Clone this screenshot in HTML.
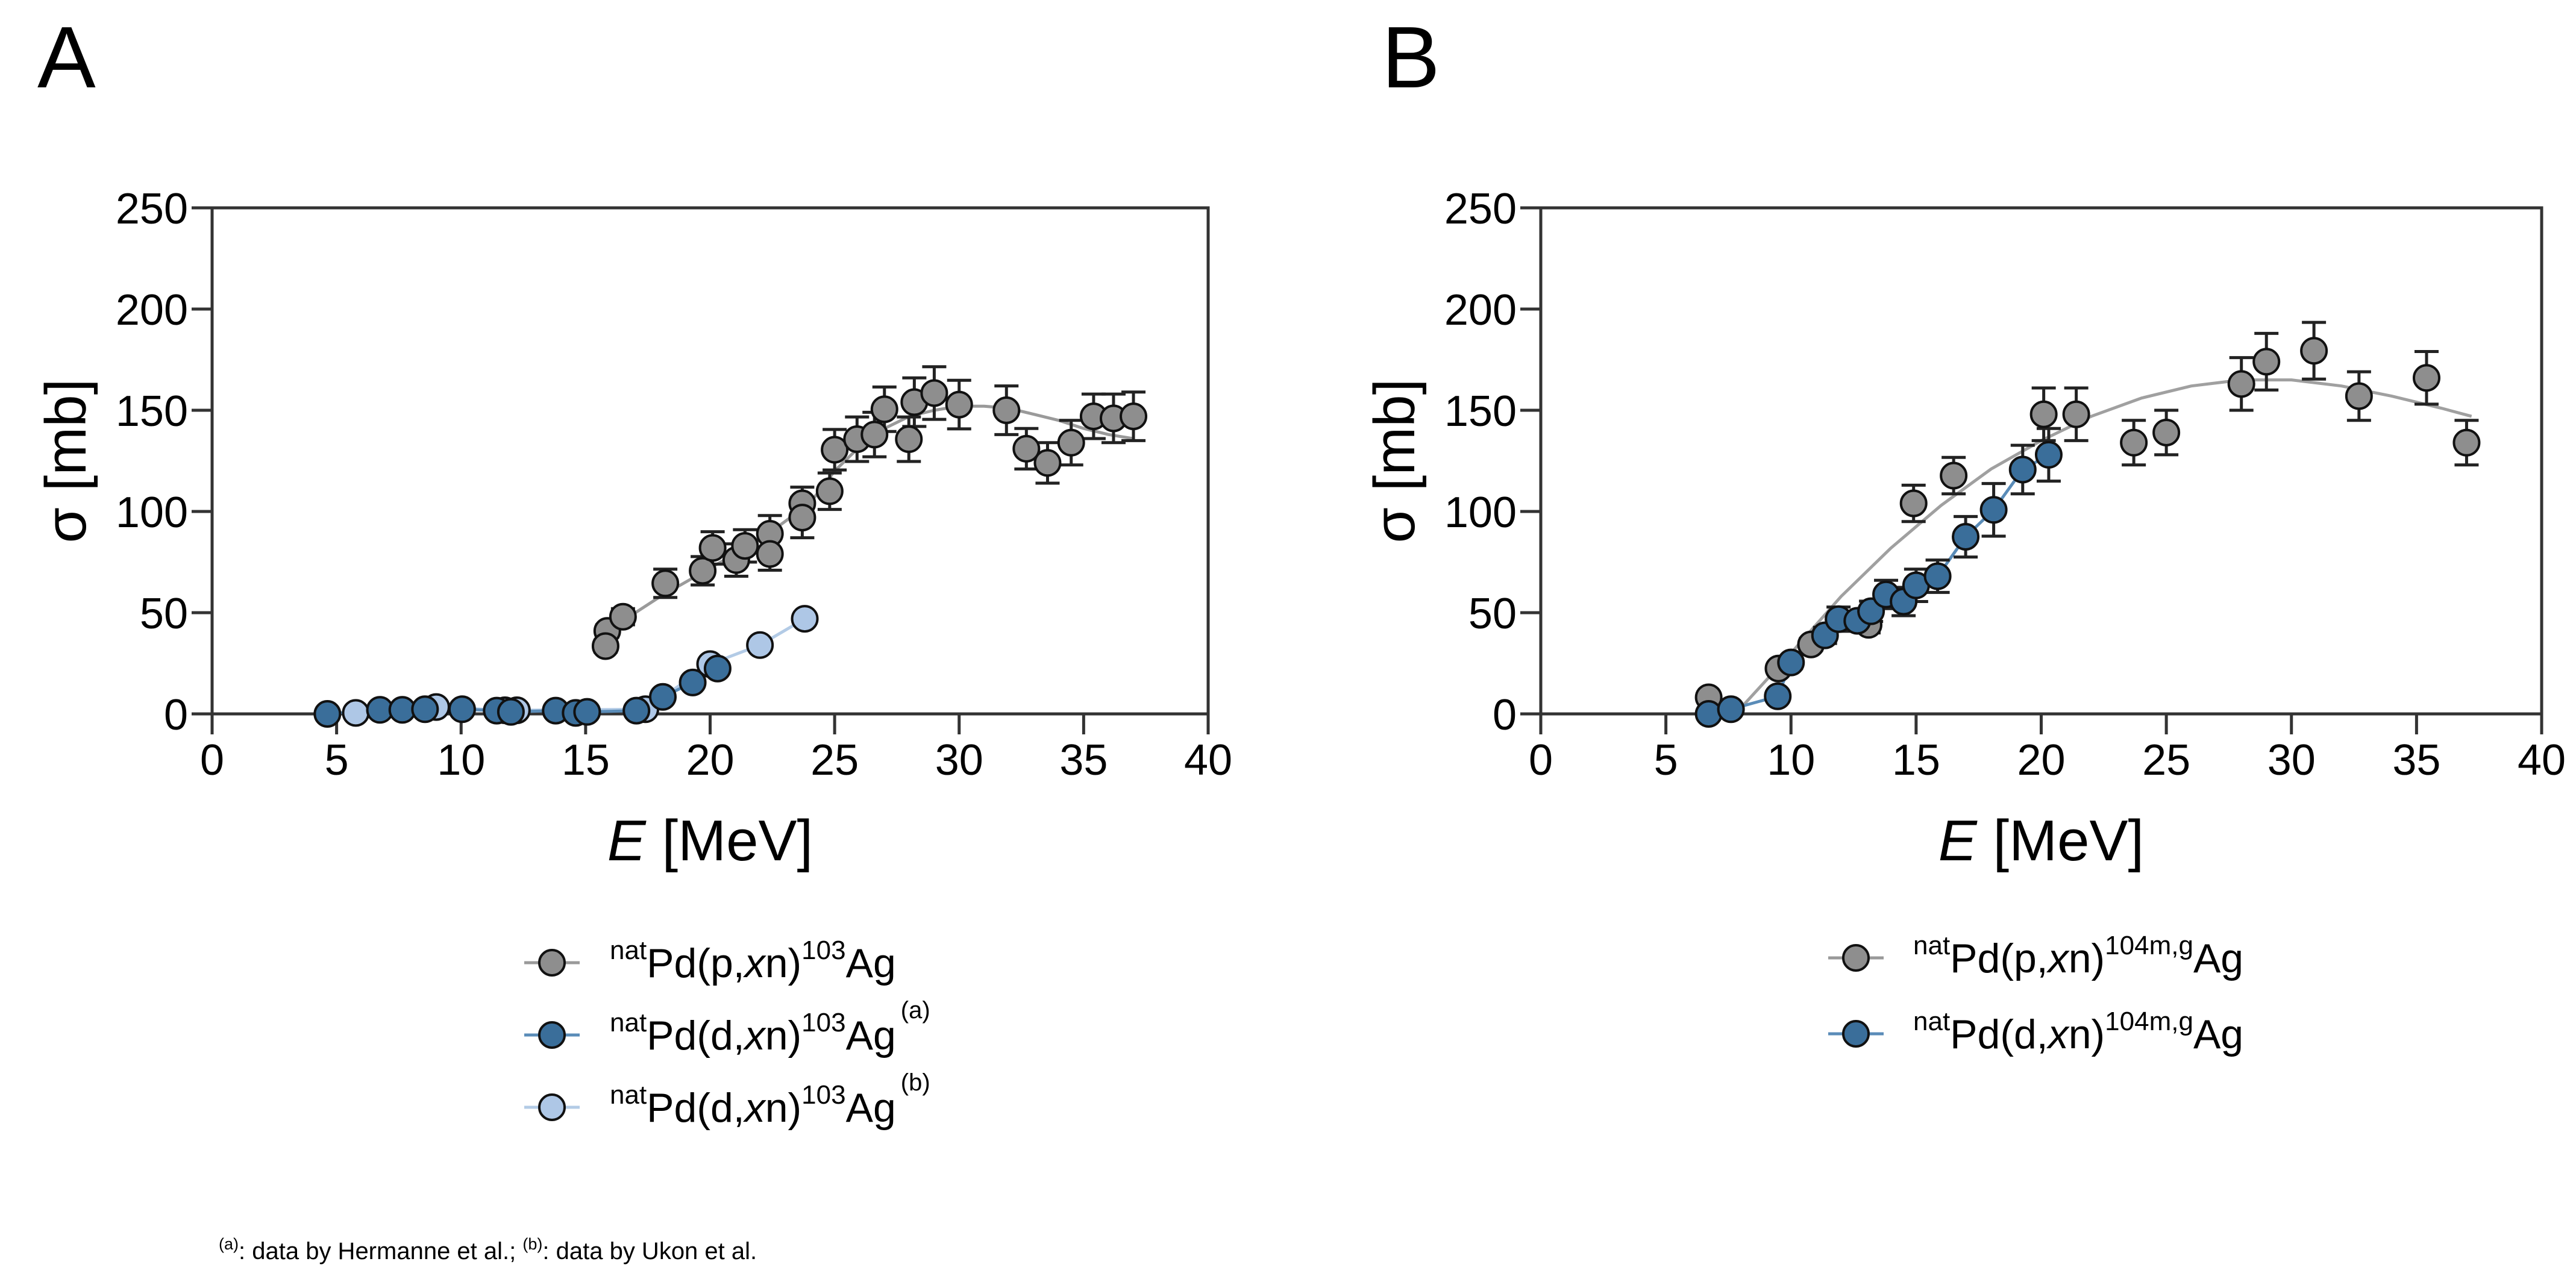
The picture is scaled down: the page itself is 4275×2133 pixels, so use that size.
<!DOCTYPE html>
<html><head><meta charset="utf-8"><style>
html,body{margin:0;padding:0;background:#fff;}
svg{display:block;font-family:"Liberation Sans",Arial,sans-serif;}
</style></head><body>
<svg id="fig" width="4275" height="2133" viewBox="0 0 4275 2133" xmlns="http://www.w3.org/2000/svg">
<text x="62" y="145" font-size="145">A</text>
<text x="2293" y="145" font-size="145">B</text>
<g id="pa"></g>
<g id="pb"></g>
<g font-size="68">
 <g>
  <line x1="870" y1="1598" x2="962" y2="1598" stroke="#999" stroke-width="5"/>
  <circle cx="916" cy="1598" r="21" fill="#8e8e8e" stroke="#111" stroke-width="4"/>
  <text x="1012" y="1622"><tspan font-size="44" dy="-30">nat</tspan><tspan dy="30">Pd(p,</tspan><tspan font-style="italic">x</tspan><tspan>n)</tspan><tspan font-size="44" dy="-30">103</tspan><tspan dy="30">Ag</tspan></text>
 </g>
 <g>
  <line x1="870" y1="1718" x2="962" y2="1718" stroke="#5a8cb8" stroke-width="5"/>
  <circle cx="916" cy="1718" r="21" fill="#3a6e9a" stroke="#111" stroke-width="4"/>
  <text x="1012" y="1742"><tspan font-size="44" dy="-30">nat</tspan><tspan dy="30">Pd(d,</tspan><tspan font-style="italic">x</tspan><tspan>n)</tspan><tspan font-size="44" dy="-30">103</tspan><tspan dy="30">Ag</tspan><tspan font-size="40" dy="-52" dx="8">(a)</tspan></text>
 </g>
 <g>
  <line x1="870" y1="1838" x2="962" y2="1838" stroke="#b3cbe6" stroke-width="5"/>
  <circle cx="916" cy="1838" r="21" fill="#aec7e6" stroke="#111" stroke-width="4"/>
  <text x="1012" y="1862"><tspan font-size="44" dy="-30">nat</tspan><tspan dy="30">Pd(d,</tspan><tspan font-style="italic">x</tspan><tspan>n)</tspan><tspan font-size="44" dy="-30">103</tspan><tspan dy="30">Ag</tspan><tspan font-size="40" dy="-52" dx="8">(b)</tspan></text>
 </g>
</g>
<g font-size="68">
 <g>
  <line x1="3034" y1="1590" x2="3126" y2="1590" stroke="#999" stroke-width="5"/>
  <circle cx="3080" cy="1590" r="21" fill="#8e8e8e" stroke="#111" stroke-width="4"/>
  <text x="3175" y="1614"><tspan font-size="44" dy="-30">nat</tspan><tspan dy="30">Pd(p,</tspan><tspan font-style="italic">x</tspan><tspan>n)</tspan><tspan font-size="44" dy="-30">104m,g</tspan><tspan dy="30">Ag</tspan></text>
 </g>
 <g>
  <line x1="3034" y1="1716" x2="3126" y2="1716" stroke="#5a8cb8" stroke-width="5"/>
  <circle cx="3080" cy="1716" r="21" fill="#3a6e9a" stroke="#111" stroke-width="4"/>
  <text x="3175" y="1740"><tspan font-size="44" dy="-30">nat</tspan><tspan dy="30">Pd(d,</tspan><tspan font-style="italic">x</tspan><tspan>n)</tspan><tspan font-size="44" dy="-30">104m,g</tspan><tspan dy="30">Ag</tspan></text>
 </g>
</g>
<text x="363" y="2090" font-size="40"><tspan font-size="27" dy="-16">(a)</tspan><tspan dy="16">: data by Hermanne et al.; </tspan><tspan font-size="27" dy="-16">(b)</tspan><tspan dy="16">: data by Ukon et al.</tspan></text>
</svg>
<script>
// Panel A data
const aPxnE = [15.87,15.8,16.5,18.2,19.7,20.1,21.05,21.4,22.4,22.4,23.7,23.7,24.8,25.0,25.9,26.6,27.0,27.98,28.2,29.0,30.0,31.9,32.7,33.55,34.5,35.4,36.2,37.0];
const aPxnS = [41,33.5,48,64.5,70.7,82,76,83,89,79,104,97,110,130.5,135.7,138,150.5,135.7,154,158.5,152.8,150,131,124,134,147,146,147];
const aPxnErr = [3,3,4,7,7,8,8,8,9,8,8,10,9,10,11,11,11,11,12,13,12,12,10,10,11,11,12,12];
const aPxnFitE = [15.8,17,18,20,22,24,25,26,27,28,29,30,31,32,33,34,35,36,37];
const aPxnFitS = [40,50,58,72,86,104,120,132,141,147,150,152,152,151,148,145,141,138,136];
const aDHermE = [4.63,6.74,7.64,8.55,10.04,11.43,12.0,13.8,14.6,15.06,17.04,18.1,19.3,20.3];
const aDHermS = [0,2,2,2.3,2.3,1.6,1,1.6,0.5,1,1.6,8.4,15.5,22.4];
const aDUkonE = [5.77,9.0,11.76,12.24,17.4,20.0,22.0,23.8];
const aDUkonS = [0.5,3.4,1.8,1.8,2.3,24.6,34,47];
// Panel B data
const bPxnE = [6.71,9.5,10.8,13.1,14.9,16.5,20.1,21.4,23.7,25.0,28.0,29.0,30.9,32.7,35.4,37.0];
const bPxnS = [8.2,22.4,34.3,44,104,117.7,148,148,134,139,163,174,179.4,157,166,134];
const bPxnErr = [1,2,3,4,9,9,13,13,11,11,13,14,14,12,13,11];
const bPxnFitE = [7.5,8,10,12,14,16,18,20,22,24,26,28,30,32,34,36,37.2];
const bPxnFitS = [0,3,30,58,82,103,121,135,147,156,162,165,165,162,157,151,147];
const bDxnE = [6.71,7.6,9.47,10.0,11.36,11.9,12.65,13.2,13.8,14.5,15.0,15.86,16.98,18.1,19.26,20.3];
const bDxnS = [0,2.3,8.7,25.4,38.8,46.8,46,50.7,59,55.5,63.5,68,87.5,100.8,120.7,128];
const bDxnErr = [0,1,2,3,4,6,4,5,7,7,8,8,10,13,12,13];
const xTicks = [0,5,10,15,20,25,30,35,40];
const yTicks = [0,50,100,150,200,250];

const NS="http://www.w3.org/2000/svg";
function mk(parent,tag,attrs){const e=document.createElementNS(NS,tag);for(const k in attrs)e.setAttribute(k,attrs[k]);parent.appendChild(e);return e;}

function drawPanel(g,x0px,x1px,prefix){
  const y0px=1185,y1px=345;
  const X=v=>x0px+(v/40)*(x1px-x0px);
  const Y=v=>y0px-(v/250)*(y0px-y1px);
  const frame=mk(g,'rect',{x:x0px,y:y1px,width:x1px-x0px,height:y0px-y1px,fill:'none',stroke:'#333',"stroke-width":5});
  
  
  xTicks.forEach(t=>{
    const l=mk(g,'line',{x1:X(t),x2:X(t),y1:y0px,y2:y0px+34,stroke:'#333',"stroke-width":5});
    
    
    const tx=mk(g,'text',{x:X(t),y:1286,"font-size":72,"text-anchor":"middle"});
    tx.textContent=t;
    
    
  });
  yTicks.forEach(t=>{
    const l=mk(g,'line',{x1:x0px-34,x2:x0px,y1:Y(t),y2:Y(t),stroke:'#333',"stroke-width":5});
    
    
    const tx=mk(g,'text',{x:x0px-40,y:Y(t)+26,"font-size":72,"text-anchor":"end"});
    tx.textContent=t;
    
    
  });
  const xt=mk(g,'text',{x:(x0px+x1px)/2,y:1428,"font-size":96,"text-anchor":"middle"});
  xt.innerHTML='<tspan font-style="italic">E</tspan> [MeV]';
  
  
  const yt=mk(g,'text',{x:0,y:0,"font-size":96,"text-anchor":"middle",transform:`translate(${x0px-210},765) rotate(-90)`});
  yt.textContent='σ [mb]';
  
  
  return {X,Y};
}
function line(g,ax,E,S,color,name){
  const p=mk(g,'polyline',{points:E.map((e,i)=>ax.X(e)+','+ax.Y(S[i])).join(' '),fill:'none',stroke:color,"stroke-width":5,"stroke-linejoin":"round"});
  
  
}
function errs(g,ax,E,S,R,name){
  E.forEach((e,i)=>{
    if(!R[i])return;
    const x=ax.X(e),yt=ax.Y(S[i]+R[i]),yb=ax.Y(S[i]-R[i]);
    const p=mk(g,'path',{d:`M${x} ${yt}V${yb}M${x-20} ${yt}H${x+20}M${x-20} ${yb}H${x+20}`,stroke:'#222',"stroke-width":5,fill:'none'});
    
    
  });
}
function pts(g,ax,E,S,fill,name){
  E.forEach((e,i)=>{
    const c=mk(g,'circle',{cx:ax.X(e),cy:ax.Y(S[i]),r:21,fill:fill,stroke:'#111',"stroke-width":4});
    
    
  });
}
const ga=document.getElementById('pa'), gb=document.getElementById('pb');
const A=drawPanel(ga,352,2005,'panel-a');
line(ga,A,aPxnFitE,aPxnFitS,'#9a9a9a','panel-a-pxn-fit-line');
line(ga,A,aDUkonE,aDUkonS,'#b3cbe6','panel-a-ukon-line');
line(ga,A,aDHermE,aDHermS,'#5a8cb8','panel-a-hermanne-line');
errs(ga,A,aPxnE,aPxnS,aPxnErr,'panel-a-pxn-error-bar');
pts(ga,A,aPxnE,aPxnS,'#8e8e8e','panel-a-pxn-point');
pts(ga,A,aDUkonE,aDUkonS,'#aec7e6','panel-a-ukon-point');
pts(ga,A,aDHermE,aDHermS,'#3a6e9a','panel-a-hermanne-point');
const B=drawPanel(gb,2557,4218,'panel-b');
line(gb,B,bPxnFitE,bPxnFitS,'#a0a0a0','panel-b-pxn-fit-line');
line(gb,B,bDxnE,bDxnS,'#5a8cb8','panel-b-dxn-line');
errs(gb,B,bPxnE,bPxnS,bPxnErr,'panel-b-pxn-error-bar');
errs(gb,B,bDxnE,bDxnS,bDxnErr,'panel-b-dxn-error-bar');
pts(gb,B,bPxnE,bPxnS,'#8e8e8e','panel-b-pxn-point');
pts(gb,B,bDxnE,bDxnS,'#3a6e9a','panel-b-dxn-point');
</script>
</body></html>
